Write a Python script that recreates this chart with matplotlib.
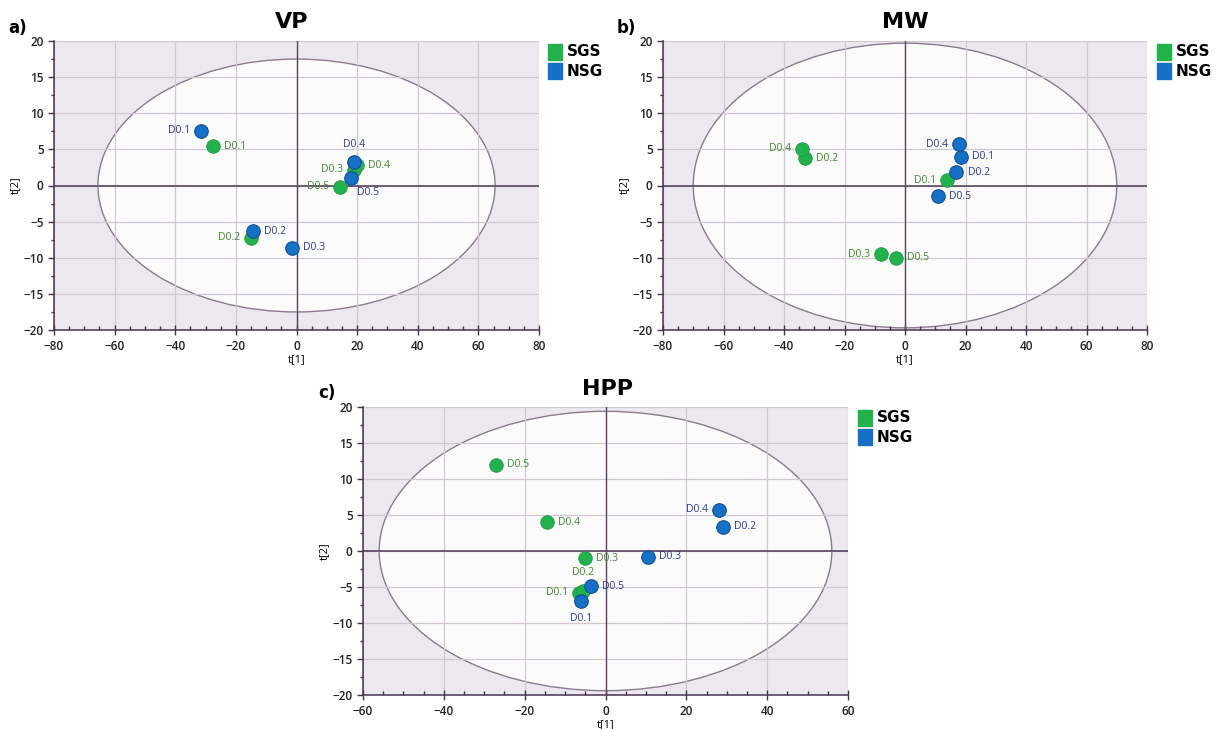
import matplotlib.pyplot as plt
from matplotlib.patches import Ellipse, Rectangle
import numpy as np

# sample labels
labels = ["D0.1", "D0.2", "D0.3", "D0.4", "D0.5"]

# VP scores
vp_sgs_t1 = [-27.5, -15.0, 19.0, 20.0, 14.5]
vp_sgs_t2 = [5.4, -7.2, 2.2, 2.8, -0.2]
vp_nsg_t1 = [-31.5, -14.5, -1.5, 19.0, 18.0]
vp_nsg_t2 = [7.6, -6.3, -8.6, 3.2, 1.1]

# MW scores (no NSG D0.3 shown)
mw_sgs_t1 = [14.0, -33.0, -8.0, -34.0, -3.0]
mw_sgs_t2 = [0.7, 3.8, -9.5, 5.1, -10.0]
mw_nsg_lab = ["D0.1", "D0.2", "D0.4", "D0.5"]
mw_nsg_t1 = [18.5, 17.0, 18.0, 11.0]
mw_nsg_t2 = [4.0, 1.8, 5.7, -1.5]

# HPP scores
hpp_sgs_t1 = [-6.5, -5.5, -5.0, -14.5, -27.0]
hpp_sgs_t2 = [-5.8, -5.5, -1.0, 4.0, 12.0]
hpp_nsg_t1 = [-6.0, 29.0, 10.5, 28.0, -3.5]
hpp_nsg_t2 = [-6.9, 3.4, -0.8, 5.7, -4.9]

# Hotelling ellipse half-widths (t1, t2)
vp_ell = (65.5, 17.5)
mw_ell = (70.0, 19.7)
hpp_ell = (56.0, 19.4)

# label placement: r, l, a (above), b (below)
vp_sgs_pos = ["r", "l", "l", "r", "l"]
vp_nsg_pos = ["l", "r", "r", "a", "br"]
mw_sgs_pos = ["l", "r", "l", "l", "r"]
mw_nsg_pos = ["r", "r", "l", "r"]
hpp_sgs_pos = ["l", "a", "r", "r", "r"]
hpp_nsg_pos = ["b", "r", "r", "l", "r"]

GREEN = "#22b24c"
BLUE = "#1670c6"
GTXT = "#3f8a2c"
BTXT = "#2b3a9c"
BG = "#ebe9ef"
GRID = "#d2c6d2"
AXC = "#5b4560"
SPINE = "#4a3050"

W, H = 1218, 729
fig = plt.figure(figsize=(W / 100, H / 100), dpi=100)
plt.rcParams['font.family'] = ['Open Sans', 'DejaVu Sans']


def px_axes(l, t, r, b):
    return fig.add_axes([l / W, 1 - b / H, (r - l) / W, (b - t) / H])


def annotate(ax, x, y, txt, pos, color):
    off = {"r": (8, 0, "left", "center"), "l": (-8, 0, "right", "center"),
           "a": (0, 9, "center", "bottom"), "b": (0, -9, "center", "top"),
           "br": (4, -7, "left", "top")}[pos]
    ax.annotate(txt, (x, y), xytext=(off[0], off[1]), textcoords="offset points",
                ha=off[2], va=off[3], fontsize=7.5, color=color, zorder=6)


def panel(box, xlim, ell, sgs, nsg, sgs_pos, nsg_pos, nsg_labels, title, tag, tagxy, titlexy, legxy):
    ax = px_axes(*box)
    ax.set_facecolor(BG)
    ax.set_xlim(*xlim)
    ax.set_ylim(-20, 20)
    ax.set_xticks(np.arange(xlim[0], xlim[1] + 1, 20))
    ax.set_xticks(np.arange(xlim[0], xlim[1] + 1, 5), minor=True)
    ax.set_yticks(np.arange(-20, 21, 5))
    ax.set_yticks(np.arange(-20, 21, 2.5), minor=True)
    ax.add_patch(Ellipse((0, 0), 2 * ell[0], 2 * ell[1], facecolor="#fbfbfc",
                         edgecolor="#8a7a8e", lw=1.0, zorder=0.5))
    ax.grid(True, color=GRID, lw=0.9, zorder=1)
    ax.set_axisbelow(True)
    ax.axhline(0, color=AXC, lw=1.2, zorder=2)
    ax.axvline(0, color=AXC, lw=1.0, zorder=2)
    for s in ["top", "right"]:
        ax.spines[s].set_visible(False)
    for s in ["left", "bottom"]:
        ax.spines[s].set_color(SPINE)
        ax.spines[s].set_linewidth(1.1)
    ax.tick_params(which="both", labelsize=8.5, labelcolor="#222222", color=SPINE, width=1.0)
    ax.tick_params(axis="x", which="major", direction="inout", length=7)
    ax.tick_params(axis="x", which="minor", direction="in", length=3)
    ax.tick_params(axis="y", which="major", direction="out", length=4)
    ax.tick_params(axis="y", which="minor", direction="out", length=2.5)
    for lab in ax.get_xticklabels() + ax.get_yticklabels():
        lab.set_fontweight("semibold")
    ax.set_xlabel("t[1]", fontsize=8, labelpad=1)
    ax.set_ylabel("t[2]", fontsize=8, labelpad=2)

    ax.scatter(sgs[0], sgs[1], s=95, color=GREEN, edgecolor="#1c9a40", lw=0.6, zorder=4)
    ax.scatter(nsg[0], nsg[1], s=95, color=BLUE, edgecolor="#0f4f96", lw=0.8, zorder=5)
    for x, y, t, p in zip(sgs[0], sgs[1], labels, sgs_pos):
        annotate(ax, x, y, t, p, GTXT)
    for x, y, t, p in zip(nsg[0], nsg[1], nsg_labels, nsg_pos):
        annotate(ax, x, y, t, p, BTXT)

    fig.text(titlexy[0] / W, 1 - titlexy[1] / H, title, fontsize=16, fontweight="bold",
             ha="center", va="center", family="DejaVu Sans")
    fig.text(tagxy[0] / W, 1 - tagxy[1] / H, tag, fontsize=12, fontweight="bold",
             ha="left", va="center", family="DejaVu Sans")
    lx, ly = legxy
    for i, (name, c) in enumerate([("SGS", GREEN), ("NSG", BLUE)]):
        yy = ly + i * 19
        fig.patches.append(Rectangle(((lx) / W, 1 - (yy + 8) / H), 14 / W, 16 / H,
                                     transform=fig.transFigure, color=c))
        fig.text((lx + 19) / W, 1 - yy / H, name, fontsize=11, fontweight="bold",
                 ha="left", va="center", family="DejaVu Sans")
    return ax


panel((54, 41, 539, 330), (-80, 80), vp_ell, (vp_sgs_t1, vp_sgs_t2), (vp_nsg_t1, vp_nsg_t2),
      vp_sgs_pos, vp_nsg_pos, labels, "VP", "a)", (8, 28), (292, 22), (548, 52))
panel((663, 41, 1147, 330), (-80, 80), mw_ell, (mw_sgs_t1, mw_sgs_t2), (mw_nsg_t1, mw_nsg_t2),
      mw_sgs_pos, mw_nsg_pos, mw_nsg_lab, "MW", "b)", (617, 28), (905, 22), (1157, 52))
panel((363, 407, 848, 695), (-60, 60), hpp_ell, (hpp_sgs_t1, hpp_sgs_t2), (hpp_nsg_t1, hpp_nsg_t2),
      hpp_sgs_pos, hpp_nsg_pos, labels, "HPP", "c)", (318, 393), (607, 389), (858, 418))

fig.savefig("out.png", dpi=100, facecolor="white")
